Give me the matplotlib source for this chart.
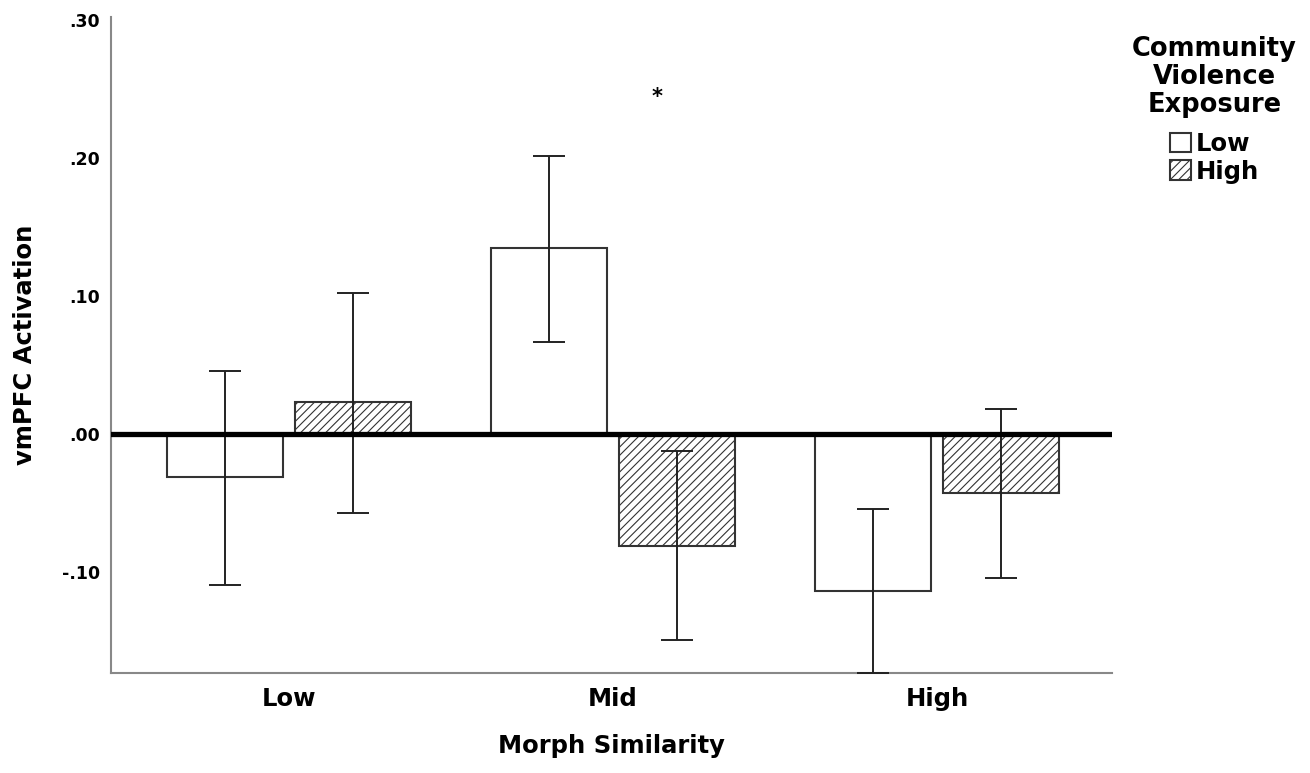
import matplotlib.pyplot as plt
import numpy as np

plt.rcParams['font.family'] = ['DejaVu Sans']
plt.rcParams['font.weight'] = 'bold'
plt.rcParams['hatch.linewidth'] = 0.8

# data
groups = ["Low", "Mid", "High"]
low_cve = [-0.031, 0.135, -0.114]
high_cve = [0.023, -0.081, -0.043]
low_err_top = [0.046, 0.201, -0.054]
low_err_bot = [-0.109, 0.067, -0.173]
high_err_top = [0.102, -0.012, 0.018]
high_err_bot = [-0.057, -0.149, -0.104]
yticks = [-0.10, 0.00, 0.10, 0.20, 0.30]
ytick_labels = ["-.10", ".00", ".10", ".20", ".30"]

x = np.arange(len(groups))
w = 0.358
off = 0.197

fig = plt.figure(figsize=(13.1, 7.73), dpi=100)
ax = fig.add_axes([0.0847, 0.1294, 0.7641, 0.8486])

ax.bar(x - off, low_cve, w, color="white", edgecolor="#333333", linewidth=1.5, label="Low", zorder=2)
ax.bar(x + off, high_cve, w, color="white", edgecolor="#333333", linewidth=1.5, hatch="////", label="High", zorder=2)

for xs, vals, top, bot in [(x - off, low_cve, low_err_top, low_err_bot),
                           (x + off, high_cve, high_err_top, high_err_bot)]:
    vals = np.array(vals)
    yerr = [vals - np.array(bot), np.array(top) - vals]
    ax.errorbar(xs, vals, yerr=yerr, fmt="none", ecolor="#222222", elinewidth=1.4,
                capsize=11.5, capthick=1.4, zorder=3)

ax.axhline(0, color="black", linewidth=3.8, zorder=4)

ax.text(0.136 + 1, 0.244, "*", ha="center", va="center", fontsize=15, fontweight="bold")

ax.set_xlim(-0.549, 2.540)
ax.set_ylim(-0.173, 0.302)
ax.set_xticks(x)
ax.set_xticklabels(groups, fontsize=17.5)
ax.set_yticks(yticks)
ax.set_yticklabels(ytick_labels, fontsize=12.5)
ax.tick_params(axis="both", length=0)
ax.tick_params(axis="y", pad=8)
ax.tick_params(axis="x", pad=10)

for s in ["top", "right"]:
    ax.spines[s].set_visible(False)
for s in ["left", "bottom"]:
    ax.spines[s].set_color("#888888")
    ax.spines[s].set_linewidth(1.5)

ax.set_xlabel("Morph Similarity", fontsize=17.5, fontweight="bold", labelpad=17)
ax.set_ylabel("vmPFC Activation", fontsize=17.5, fontweight="bold", labelpad=18)

leg = ax.legend(title="Community\nViolence\nExposure", loc="upper left",
                bbox_to_anchor=(1.003, 0.997), frameon=False, fontsize=17.5,
                title_fontsize=18.5, handlelength=0.85, handleheight=0.85,
                handletextpad=0.2, labelspacing=0.15, borderpad=0.2)
leg.get_title().set_fontweight("bold")
leg.get_title().set_multialignment("center")
leg.get_title().set_linespacing(1.1)
leg._legend_box.align = "center"
leg._legend_box.sep = 10

fig.savefig("out.png", dpi=100)
